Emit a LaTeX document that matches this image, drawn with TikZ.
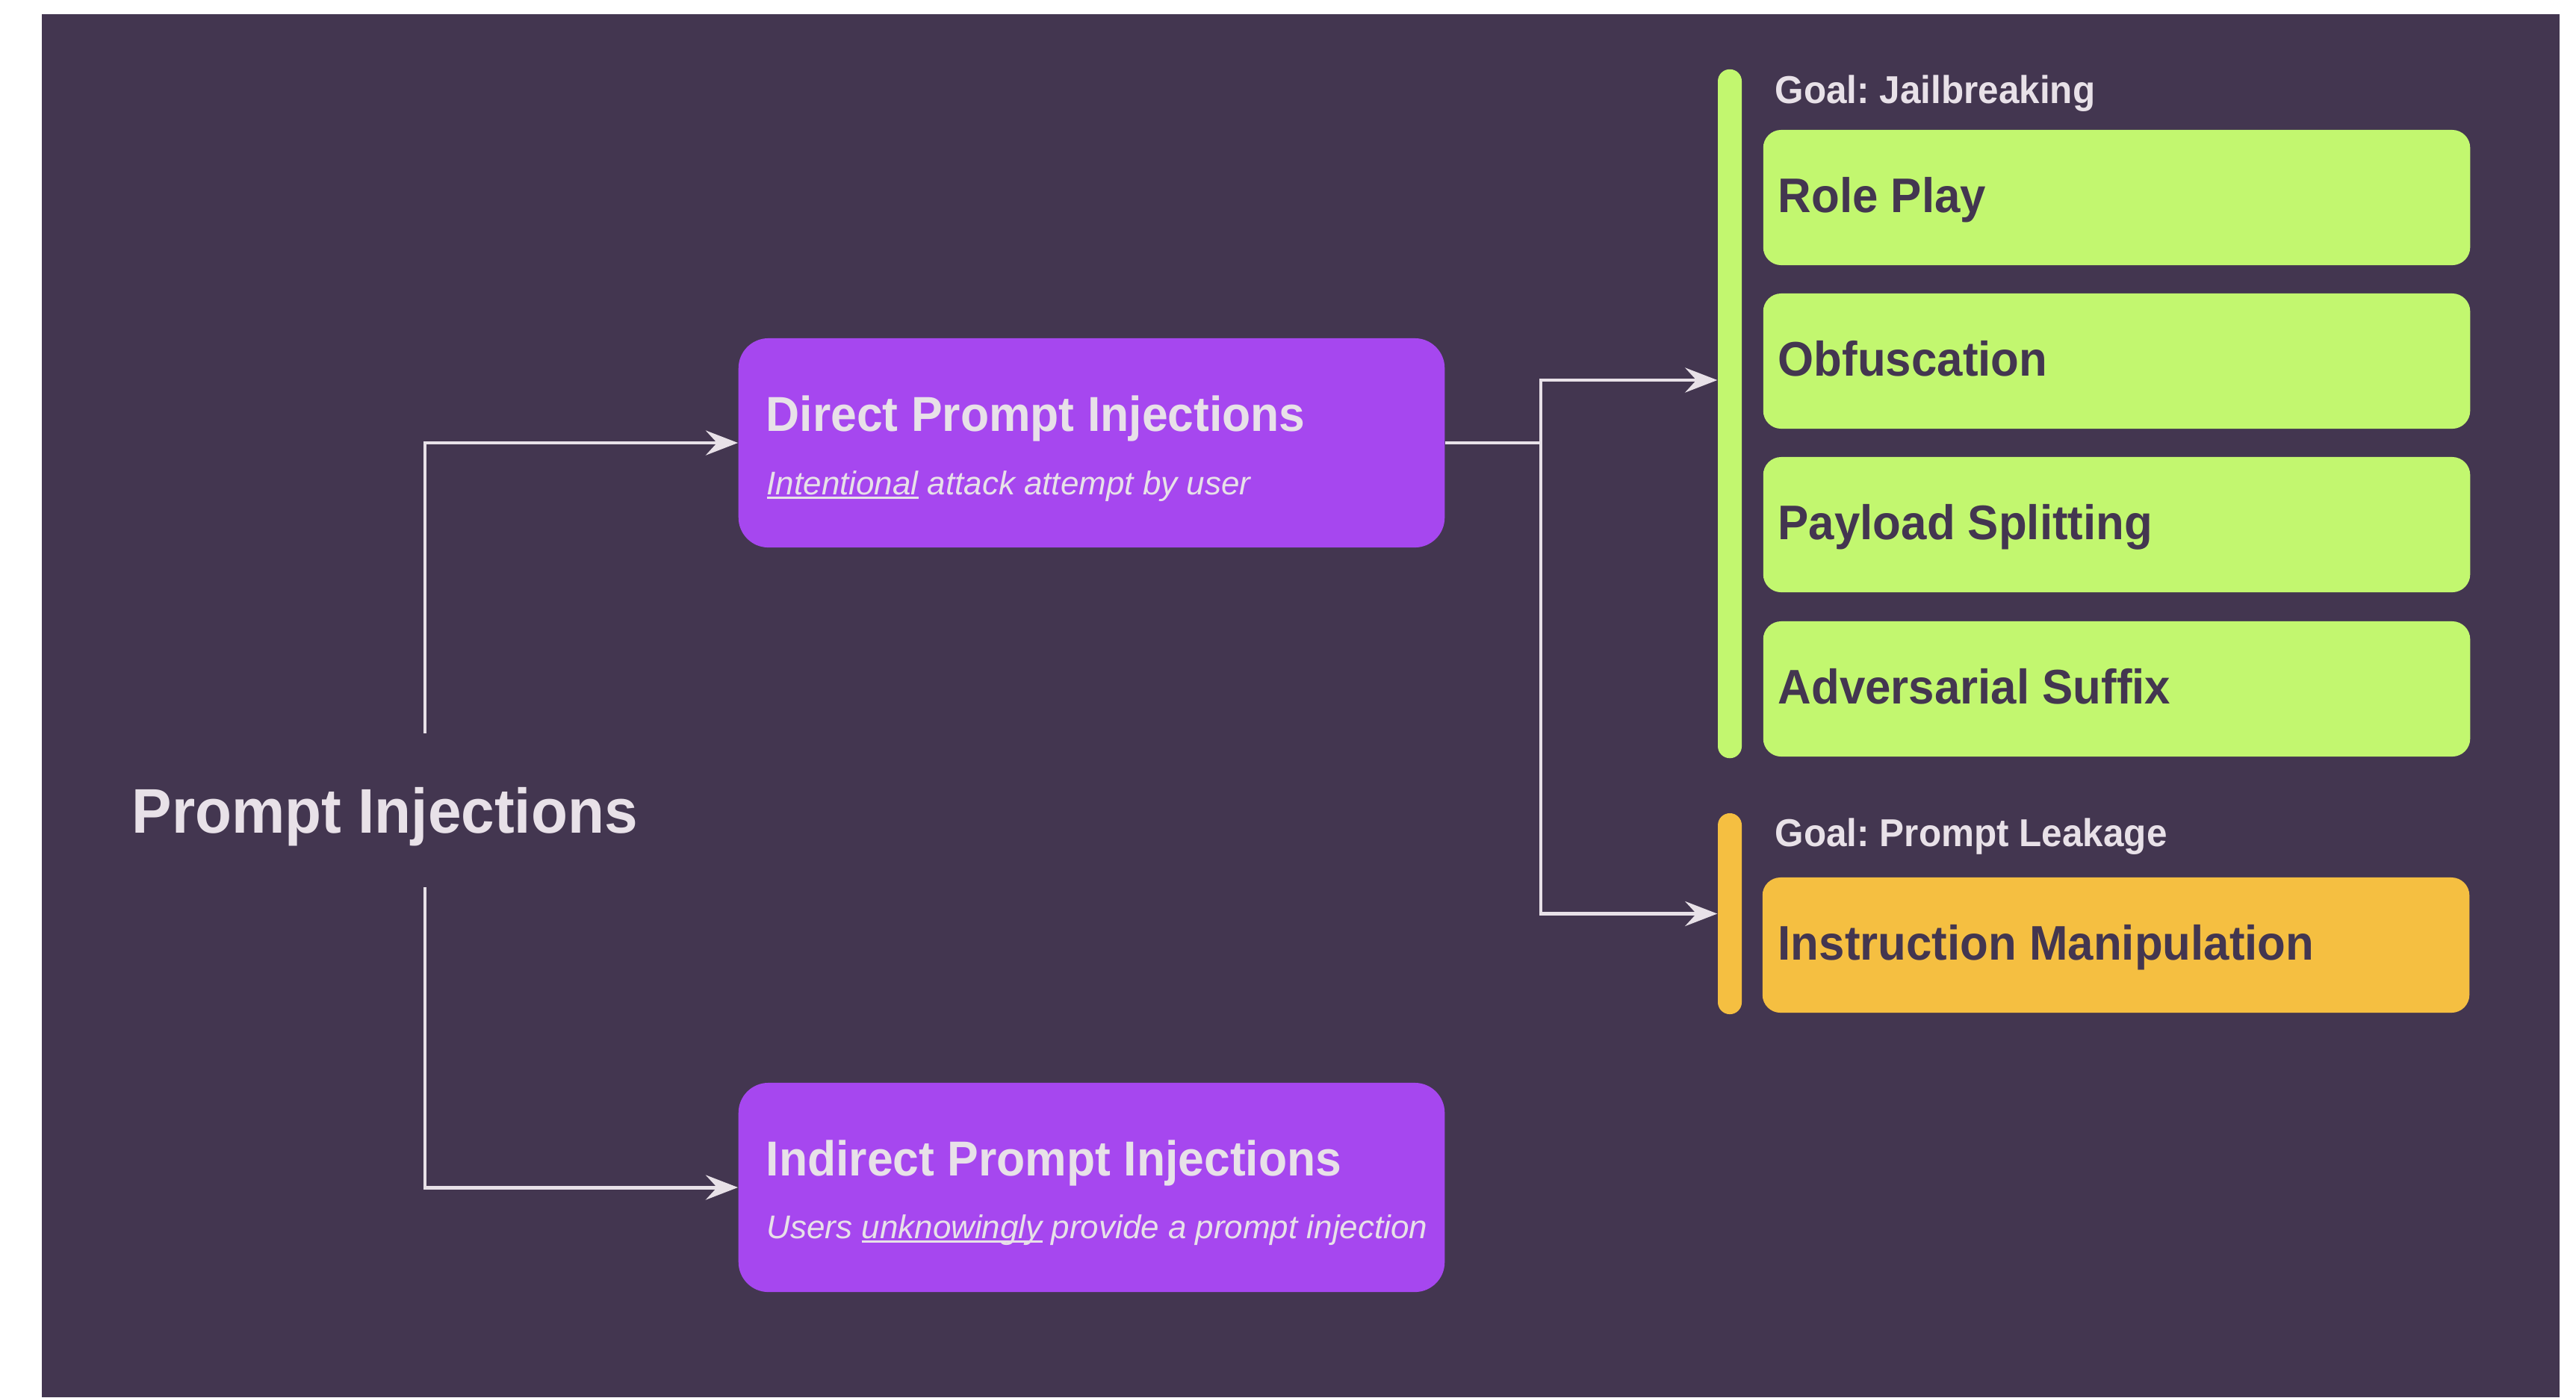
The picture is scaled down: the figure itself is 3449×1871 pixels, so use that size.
\documentclass[tikz,border=0pt]{standalone}
\usepackage{fontspec}
\setmainfont[BoldFeatures={FakeStretch=0.95}]{Liberation Sans}
\usetikzlibrary{arrows.meta}
\frenchspacing
\definecolor{bgc}{HTML}{433650}
\definecolor{purp}{HTML}{A647EF}
\definecolor{limec}{HTML}{C2F76F}
\definecolor{orangec}{HTML}{F5BF41}
\definecolor{lightc}{HTML}{E8E1E8}
\definecolor{darkc}{HTML}{433650}
\newcommand\myul[1]{\sbox0{#1}\rlap{\rule[-1.8pt]{\wd0}{0.9pt}}\usebox0}
\tikzset{
  pbox/.style={rectangle, rounded corners=0.4cm, fill=purp, minimum width=9.45cm, minimum height=2.8cm, inner sep=0pt},
  gbox/.style={rectangle, rounded corners=0.24cm, fill=limec, minimum width=9.46cm, minimum height=1.81cm, inner sep=0pt},
  obox/.style={rectangle, rounded corners=0.24cm, fill=orangec, minimum width=9.46cm, minimum height=1.81cm, inner sep=0pt},
  bar/.style={rectangle, rounded corners=0.16cm, minimum width=0.32cm, inner sep=0pt},
  txt/.style={anchor=base west, inner sep=0pt},
  maintitle/.style={txt, text=lightc, font=\fontsize{24pt}{28pt}\selectfont\bfseries},
  ptitle/.style={txt, text=lightc, font=\fontsize{18.7pt}{22pt}\selectfont\bfseries},
  psub/.style={txt, text=lightc, font=\fontsize{12.5pt}{15pt}\selectfont\itshape},
  goal/.style={txt, text=lightc, font=\fontsize{14.8pt}{18pt}\selectfont\bfseries},
  itemtxt/.style={txt, text=darkc, font=\fontsize{18.5pt}{22pt}\selectfont\bfseries},
  conn/.style={draw=lightc, line width=1.4pt},
  arr/.style={conn, -{Stealth[length=0.43cm,width=0.33cm,inset=0.15cm]}},
}
\begin{document}
\begin{tikzpicture}[x=0.01cm,y=-0.01cm]
\useasboundingbox (0,0) rectangle (3449,1871);
\fill[white] (0,0) rectangle (3449,1871);
\fill[bgc] (56,19) rectangle (3427,1871);

% left title
\node[maintitle] (pi) at (176,1115) {Prompt Injections};
\coordinate (pitop) at (569,982);
\coordinate (pibot) at (569,1188);

% purple boxes
\node[pbox] (direct) at (1461.5,593) {};
\node[ptitle] (directT) at (1025,577) {Direct Prompt Injections};
\node[psub] (directS) at (1026,662) {\myul{Intentional} attack attempt by user};

\node[pbox] (indirect) at (1461.5,1590) {};
\node[ptitle] (indirectT) at (1025,1574) {Indirect Prompt Injections};
\node[psub] (indirectS) at (1026,1658) {Users \myul{unknowingly} provide a prompt injection};

% bars
\node[bar, fill=limec, minimum height=9.22cm] (jbar) at (2316,554) {};
\node[bar, fill=orangec, minimum height=2.69cm] (lbar) at (2316,1223.5) {};

% goal labels
\node[goal] (goalJ) at (2376,138) {Goal: Jailbreaking};
\node[goal] (goalL) at (2376,1133) {Goal: Prompt Leakage};

% technique boxes
\node[gbox] (rp) at (2834,264.5) {};
\node[itemtxt] (rpT) at (2380,284.5) {Role Play};
\node[gbox] (ob) at (2834,483.5) {};
\node[itemtxt] (obT) at (2380,503.5) {Obfuscation};
\node[gbox] (ps) at (2834,702.5) {};
\node[itemtxt] (psT) at (2380,722.5) {Payload Splitting};
\node[gbox] (as) at (2834,922.5) {};
\node[itemtxt] (asT) at (2380,942.5) {Adversarial Suffix};
\node[obox] (im) at (2833,1265.5) {};
\node[itemtxt] (imT) at (2380,1285.5) {Instruction Manipulation};

% connectors
\draw[arr] (pitop) |- (direct.west);
\draw[arr] (pibot) |- (indirect.west);
\coordinate (jn) at (2063,593);
\draw[conn] (direct.east) -- (jn);
\draw[arr] (jn) |- ([yshift=0.45cm]jbar.west);
\draw[arr] (jn) |- (lbar.west);
\end{tikzpicture}
\end{document}
